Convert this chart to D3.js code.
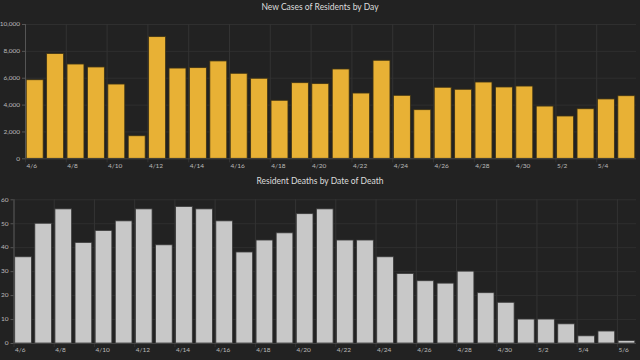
<!DOCTYPE html>
<html>
<head>
<meta charset="utf-8">
<script src="https://cdn.jsdelivr.net/npm/d3@7"></script>
<style>
html,body{margin:0;padding:0;background:#222222;}
svg{display:block;}
</style>
</head>
<body>
<svg id="chart" width="640" height="360"></svg>
<script>
const caseDates = ["4/6","4/7","4/8","4/9","4/10","4/11","4/12","4/13","4/14","4/15","4/16","4/17","4/18","4/19","4/20","4/21","4/22","4/23","4/24","4/25","4/26","4/27","4/28","4/29","4/30","5/1","5/2","5/3","5/4","5/5"];
const caseValues = [5850,7800,7020,6800,5530,1680,9060,6720,6750,7250,6330,5960,4320,5630,5560,6650,4860,7300,4690,3620,5290,5140,5680,5310,5380,3890,3150,3690,4420,4660];
const deathDates = ["4/6","4/7","4/8","4/9","4/10","4/11","4/12","4/13","4/14","4/15","4/16","4/17","4/18","4/19","4/20","4/21","4/22","4/23","4/24","4/25","4/26","4/27","4/28","4/29","4/30","5/1","5/2","5/3","5/4","5/5","5/6"];
const deathValues = [36,50,56,42,47,51,56,41,57,56,51,38,43,46,54,56,43,43,36,29,26,25,30,21,17,10,10,8,3,5,1];
const caseTicks = [0,2000,4000,6000,8000,10000];
const deathTicks = [0,10,20,30,40,50,60];
const titles = ["New Cases of Residents by Day","Resident Deaths by Date of Death"];

const svg = d3.select("#chart");
const font = "Lato, 'Open Sans', sans-serif";

function panel(cfg){
  const g = svg.append("g");
  const x = d3.scaleBand().domain(cfg.dates).range([cfg.x0, cfg.x1]).paddingInner(0.17).paddingOuter(0.06);
  const y = d3.scaleLinear().domain([0, cfg.ticks[cfg.ticks.length-1]]).range([cfg.y0, cfg.y1]);
  const step = x.step();
  const gx = i => cfg.x0 + i*step;
  // horizontal grid
  g.selectAll(".hg").data(cfg.ticks.slice(1)).join("line")
    .attr("x1", cfg.x0).attr("x2", cfg.x1)
    .attr("y1", d=>y(d)+0.5).attr("y2", d=>y(d)+0.5)
    .attr("stroke", "#2f2f2f").attr("stroke-width", 1);
  // vertical grid
  const idx = cfg.dates.map((d,i)=>i).filter(i=>i%2===0);
  g.selectAll(".vg").data(idx).join("line")
    .attr("x1", i=>gx(i)+0.5).attr("x2", i=>gx(i)+0.5)
    .attr("y1", cfg.y1).attr("y2", cfg.y0+4)
    .attr("stroke", "#333333").attr("stroke-width", 1);
  // bars
  g.selectAll(".bar").data(cfg.values).join("rect")
    .attr("x", (d,i)=>x(cfg.dates[i]))
    .attr("width", x.bandwidth())
    .attr("y", d=>y(d))
    .attr("height", d=>cfg.y0 - y(d))
    .attr("fill", cfg.color)
    .attr("stroke", cfg.stroke).attr("stroke-width", 0.8);
  // y axis line
  g.append("line").attr("x1", cfg.x0+0.5).attr("x2", cfg.x0+0.5)
    .attr("y1", cfg.y1).attr("y2", cfg.y0)
    .attr("stroke", "#555").attr("stroke-width", 1);
  // x axis line
  g.append("line").attr("x1", cfg.x0).attr("x2", cfg.x1)
    .attr("y1", cfg.y0+0.5).attr("y2", cfg.y0+0.5)
    .attr("stroke", "#444").attr("stroke-width", 1);
  // y tick marks
  g.selectAll(".yt").data(cfg.ticks).join("line")
    .attr("x1", cfg.x0-3).attr("x2", cfg.x0)
    .attr("y1", d=>y(d)+0.5).attr("y2", d=>y(d)+0.5)
    .attr("stroke", "#555");
  // y labels
  g.selectAll(".yl").data(cfg.ticks).join("text")
    .attr("x", cfg.x0-5).attr("y", d=>y(d))
    .attr("dy", "0.35em").attr("text-anchor", "end")
    .attr("font-family", font).attr("font-size", 6.5).attr("fill", "#bbbbbb")
    .text(d=>d3.format(",")(d));
  // x labels
  g.selectAll(".xl").data(idx).join("text")
    .attr("x", i=>gx(i)+1.5).attr("y", cfg.y0+7)
    .attr("dy", "0.35em").attr("text-anchor", "start")
    .attr("font-family", font).attr("font-size", 6.5).attr("fill", "#bbbbbb")
    .text(i=>cfg.dates[i]);
  // title
  svg.append("text").attr("x", 320).attr("y", cfg.ty)
    .attr("text-anchor", "middle").attr("dy", "0.35em")
    .attr("font-family", font).attr("font-size", 8.5).attr("fill", "#dddddd")
    .text(cfg.title);
}

panel({dates: caseDates, values: caseValues, ticks: caseTicks, x0: 25, x1: 636, y0: 158.3, y1: 24,
  color: "#e8b135", stroke: "#3d3215", title: titles[0], ty: 7});
panel({dates: deathDates, values: deathValues, ticks: deathTicks, x0: 13.5, x1: 636, y0: 343, y1: 199.3,
  color: "#c8c8c8", stroke: "#3a3a3a", title: titles[1], ty: 181});
</script>
</body>
</html>
